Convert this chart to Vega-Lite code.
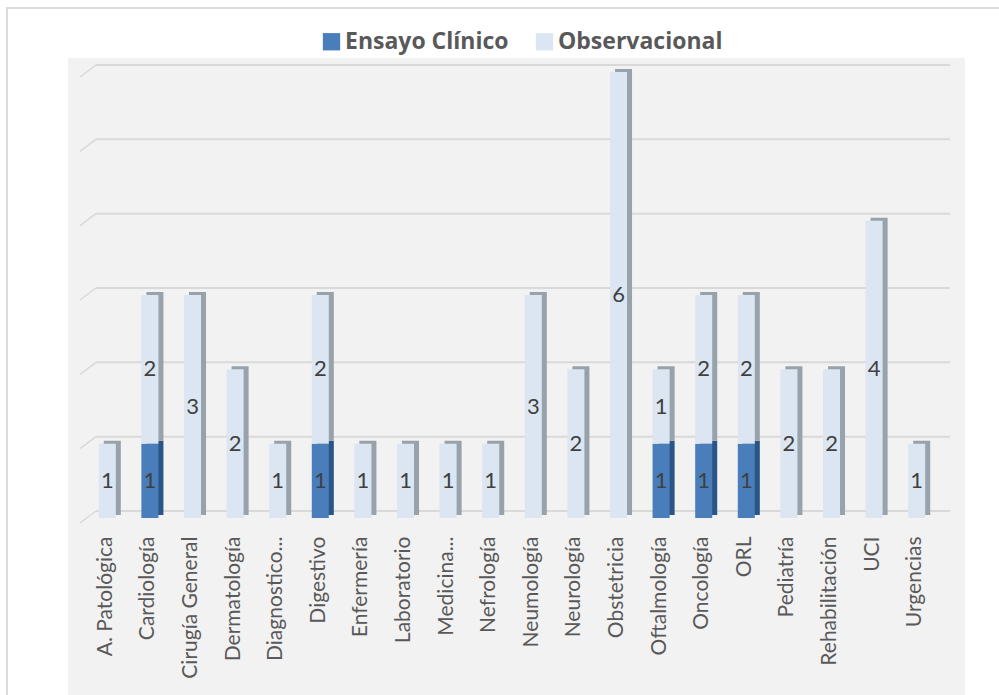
{"$schema":"https://vega.github.io/schema/vega-lite/v6.json","width":1000,"height":695,"autosize":{"type":"none"},"padding":{"left":7,"top":8,"right":0,"bottom":0},"background":"#ffffff","view":{"fill":"#ffffff","stroke":"#dcdcdc","strokeWidth":2},"resolve":{"scale":{"x":"independent"}},"layer":[{"encoding":{"x":{"datum":-0.0328,"type":"quantitative","axis":null,"scale":{"domain":[0,1],"range":[89,943],"nice":false,"zero":false}}},"layer":[{"data":{"values":[{"top":6.19,"bottom":-2.5}]},"mark":{"type":"rect","color":"#f2f2f2"},"encoding":{"x2":{"datum":1.0176},"y":{"field":"top","type":"quantitative","axis":null,"scale":{"domain":[0,6],"range":[510,64],"nice":false,"zero":false}},"y2":{"field":"bottom"}}},{"data":{"values":[{"v":0},{"v":1},{"v":2},{"v":3},{"v":4},{"v":5},{"v":6}]},"mark":{"type":"rule","color":"#d9d9d9","strokeWidth":2,"yOffset":-7,"y2Offset":-7},"encoding":{"x":{"datum":0,"type":"quantitative","axis":null,"scale":{"domain":[0,1],"range":[89,943],"nice":false,"zero":false}},"x2":{"datum":1},"y":{"field":"v","type":"quantitative","axis":null,"scale":{"domain":[0,6],"range":[510,64],"nice":false,"zero":false}},"y2":{"field":"v"}}},{"data":{"values":[{"v":0},{"v":1},{"v":2},{"v":3},{"v":4},{"v":5},{"v":6}]},"mark":{"type":"rule","color":"#d9d9d9","strokeWidth":1.5,"yOffset":5,"y2Offset":-7},"encoding":{"x":{"datum":-0.0187,"type":"quantitative","axis":null,"scale":{"domain":[0,1],"range":[89,943],"nice":false,"zero":false}},"x2":{"datum":0},"y":{"field":"v","type":"quantitative","axis":null,"scale":{"domain":[0,6],"range":[510,64],"nice":false,"zero":false}},"y2":{"field":"v"}}}]},{"data":{"values":[{"area":"A. Patológica","tipo":"Observacional","n":1},{"area":"Cardiología","tipo":"Ensayo Clínico","n":1},{"area":"Cardiología","tipo":"Observacional","n":2},{"area":"Cirugía General","tipo":"Observacional","n":3},{"area":"Dermatología","tipo":"Observacional","n":2},{"area":"Diagnostico...","tipo":"Observacional","n":1},{"area":"Digestivo","tipo":"Ensayo Clínico","n":1},{"area":"Digestivo","tipo":"Observacional","n":2},{"area":"Enfermería","tipo":"Observacional","n":1},{"area":"Laboratorio","tipo":"Observacional","n":1},{"area":"Medicina...","tipo":"Observacional","n":1},{"area":"Nefrología","tipo":"Observacional","n":1},{"area":"Neumología","tipo":"Observacional","n":3},{"area":"Neurología","tipo":"Observacional","n":2},{"area":"Obstetricia","tipo":"Observacional","n":6},{"area":"Oftalmología","tipo":"Ensayo Clínico","n":1},{"area":"Oftalmología","tipo":"Observacional","n":1},{"area":"Oncología","tipo":"Ensayo Clínico","n":1},{"area":"Oncología","tipo":"Observacional","n":2},{"area":"ORL","tipo":"Ensayo Clínico","n":1},{"area":"ORL","tipo":"Observacional","n":2},{"area":"Pediatría","tipo":"Observacional","n":2},{"area":"Rehabilitación","tipo":"Observacional","n":2},{"area":"UCI","tipo":"Observacional","n":4},{"area":"Urgencias","tipo":"Observacional","n":1}]},"transform":[{"stack":"n","groupby":["area"],"sort":[{"field":"tipo","order":"ascending"}],"as":["y0","y1"]}],"encoding":{"x":{"field":"area","type":"nominal","sort":["A. Patológica","Cardiología","Cirugía General","Dermatología","Diagnostico...","Digestivo","Enfermería","Laboratorio","Medicina...","Nefrología","Neumología","Neurología","Obstetricia","Oftalmología","Oncología","ORL","Pediatría","Rehabilitación","UCI","Urgencias"],"scale":{"type":"band","range":[79,931],"paddingInner":0.6,"paddingOuter":0.3},"axis":{"orient":"bottom","title":null,"offset":-185,"zindex":1,"domain":false,"ticks":false,"labelAngle":-90,"labelAlign":"right","labelBaseline":"middle","labelPadding":18,"labelFont":"Lato","labelFontSize":21,"labelColor":"#595959","labelOverlap":false,"labelLimit":200,"labelOffset":-1.5}}},"layer":[{"mark":{"type":"bar","xOffset":5,"x2Offset":5,"yOffset":-3,"y2Offset":-3},"encoding":{"y":{"field":"y1","type":"quantitative","axis":null,"scale":{"domain":[0,6],"range":[510,64],"nice":false,"zero":false}},"y2":{"field":"y0"},"color":{"condition":{"test":"datum.tipo === 'Ensayo Clínico'","value":"#2a5587"},"value":"#98a2aa"}}},{"mark":{"type":"bar"},"encoding":{"y":{"field":"y1","type":"quantitative","axis":null,"scale":{"domain":[0,6],"range":[510,64],"nice":false,"zero":false}},"y2":{"field":"y0"},"color":{"field":"tipo","type":"nominal","scale":{"domain":["Ensayo Clínico","Observacional"],"range":["#4a7ebb","#dce6f2"]},"legend":{"orient":"none","legendX":313,"legendY":22,"direction":"horizontal","columns":2,"title":null,"symbolType":"square","symbolSize":300,"symbolStrokeWidth":0,"labelFont":"Open Sans","labelFontWeight":"bold","labelFontSize":23,"labelColor":"#595959","columnPadding":24,"labelOffset":2,"labelLimit":300}}}},{"transform":[{"fold":["y0","y1"],"as":["k","pos"]},{"aggregate":[{"op":"mean","field":"pos","as":"mid"}],"groupby":["area","tipo","n"]}],"mark":{"type":"text","font":"Lato","fontSize":22,"color":"#404040"},"encoding":{"y":{"field":"mid","type":"quantitative","axis":null,"scale":{"domain":[0,6],"range":[510,64],"nice":false,"zero":false}},"text":{"field":"n","type":"quantitative"}}}]}]}
